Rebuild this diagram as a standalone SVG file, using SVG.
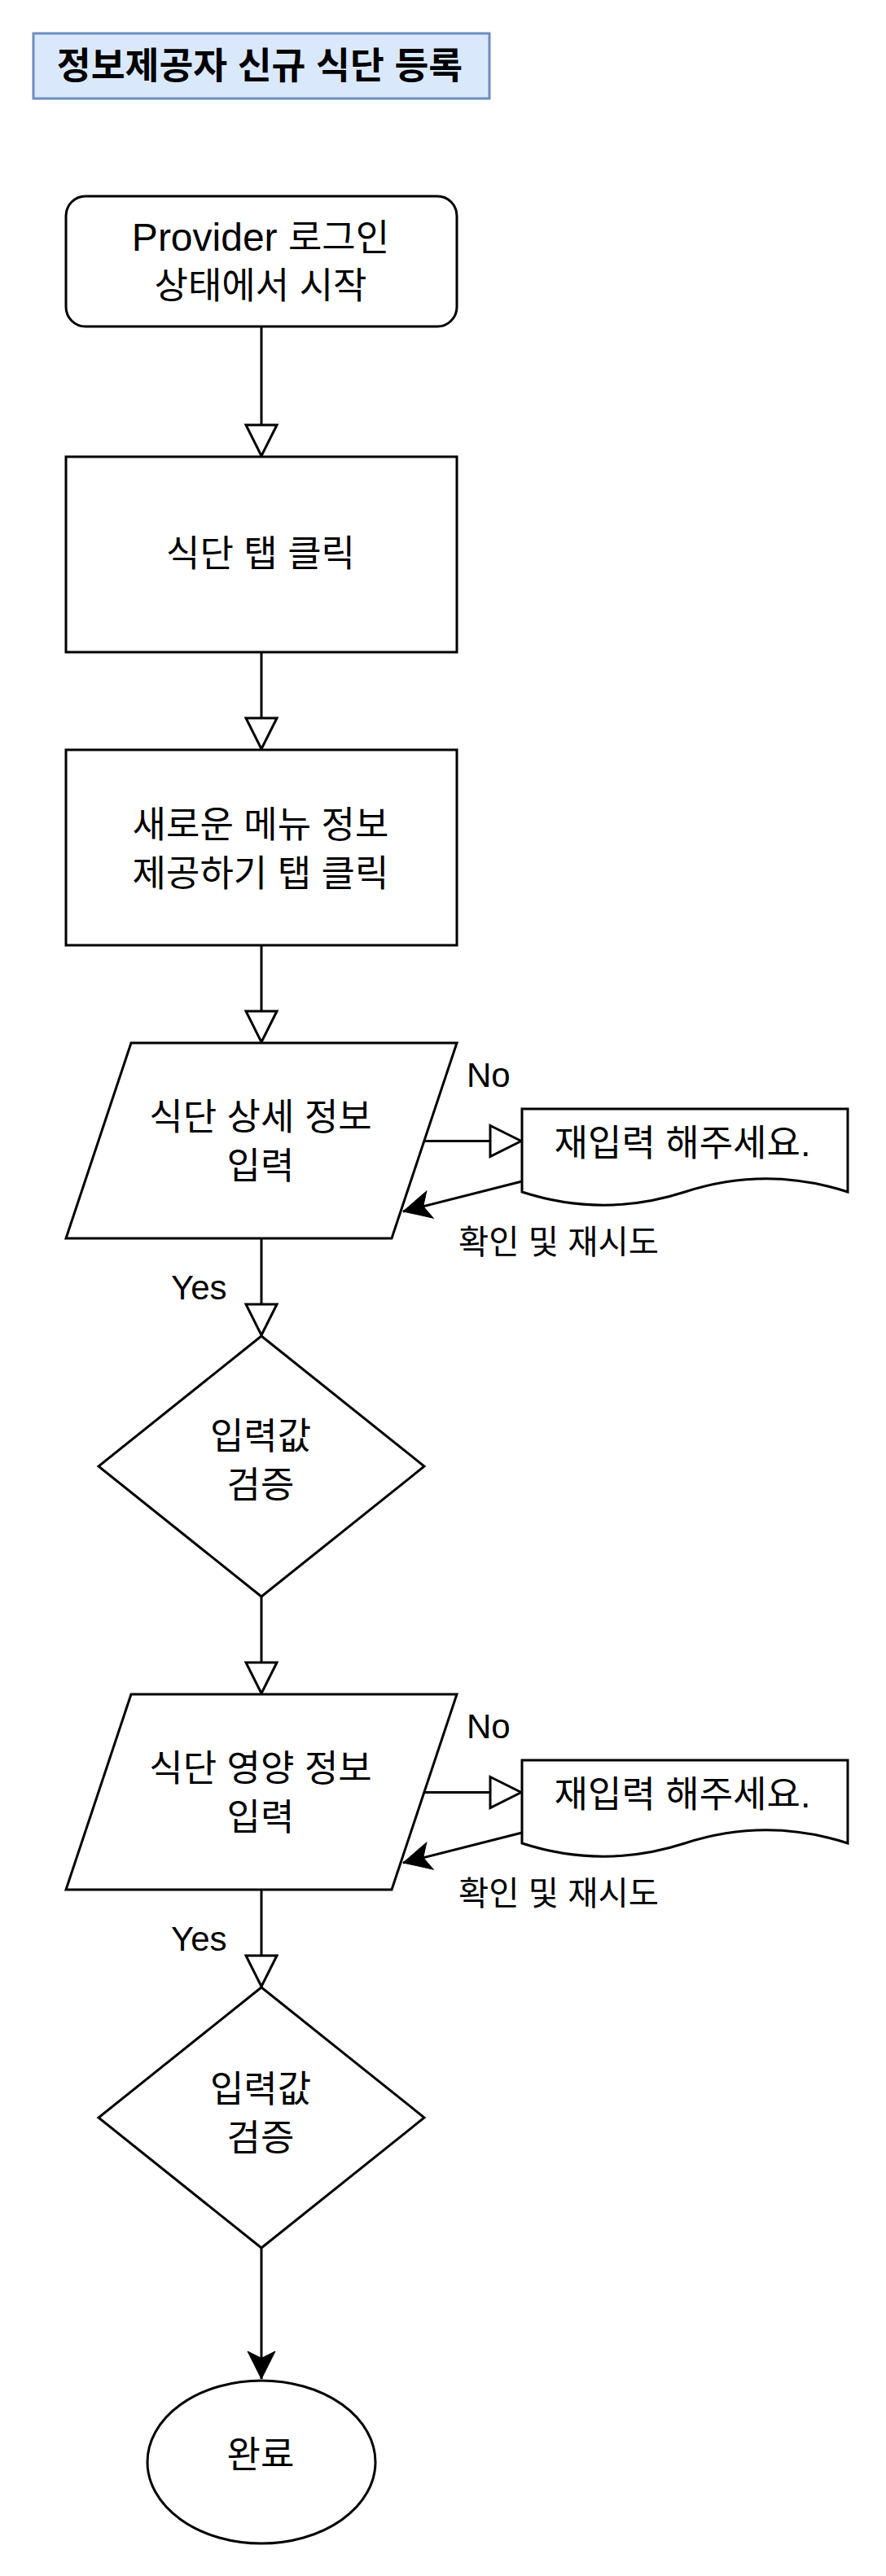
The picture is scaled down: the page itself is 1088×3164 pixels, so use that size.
<svg xmlns="http://www.w3.org/2000/svg" width="1088" height="3164" viewBox="0 0 1088 3164">
<style>
.n{fill:#fff;stroke:#000;stroke-width:3}
.t{font-family:"Liberation Sans","Noto Sans CJK KR",sans-serif;font-size:45px;fill:#000;text-anchor:middle}
.l{font-family:"Liberation Sans","Noto Sans CJK KR",sans-serif;font-size:42px;fill:#000}
.e{fill:none;stroke:#000;stroke-width:3}
.o{marker-end:url(#open)}
.c{marker-end:url(#classic)}
</style>
<defs>
<marker id="open" markerUnits="userSpaceOnUse" viewBox="-4 -4 46 46" refX="38" refY="19" markerWidth="46" markerHeight="46" orient="auto" overflow="visible">
<path d="M0,0 L38,19 L0,38 Z" fill="#fff" stroke="#000" stroke-width="3"/>
</marker>
<marker id="classic" markerUnits="userSpaceOnUse" viewBox="-4 -4 42 42" refX="34" refY="17" markerWidth="42" markerHeight="42" orient="auto" overflow="visible">
<path d="M34,17 L0,0 L8.5,17 L0,34 Z" fill="#000" stroke="#000" stroke-width="1"/>
</marker>
</defs>
<rect width="1088" height="3164" fill="#fff"/>

<g id="connectors">
<path class="e o" d="M321,401 V560"/>
<path class="e o" d="M321,801 V920"/>
<path class="e o" d="M321,1161 V1280"/>
<path class="e o" d="M321,1521 V1640"/>
<path class="e o" d="M321,1961 V2080"/>
<path class="e o" d="M321,2321 V2440"/>
<path class="e c" d="M321,2761 V2922"/>
<path class="e o" d="M521,1401.5 H640"/>
<path class="e o" d="M521,2201.5 H640"/>
<path class="e c" d="M641,1451 L495,1488"/>
<path class="e c" d="M641,2251 L495,2288"/>
<text class="l" x="573" y="1335">No</text>
<text class="l" x="278.5" y="1595.5" style="text-anchor:end">Yes</text>
<text class="l" x="686" y="1540" style="text-anchor:middle;font-size:40.5px">확인 및 재시도</text>
<text class="l" x="573" y="2135">No</text>
<text class="l" x="278.5" y="2395.5" style="text-anchor:end">Yes</text>
<text class="l" x="686" y="2340" style="text-anchor:middle;font-size:40.5px">확인 및 재시도</text>
</g>

<g id="title">
<rect x="41" y="41" width="560" height="80" fill="#dae8fc" stroke="#6c8ebf" stroke-width="3"/>
<text class="t" x="319" y="97" style="font-size:45.5px;font-weight:bold">정보제공자 신규 식단 등록</text>
</g>

<g id="start">
<rect class="n" x="81" y="241" width="480" height="160" rx="24" ry="24"/>
<text class="t" x="320" y="308"><tspan style="font-size:48px">Provider </tspan>로그인</text>
<text class="t" x="320" y="367">상태에서 시작</text>
</g>

<g id="tab-click">
<rect class="n" x="81" y="561" width="480" height="240"/>
<text class="t" x="320" y="695.5">식단 탭 클릭</text>
</g>

<g id="new-menu">
<rect class="n" x="81" y="921" width="480" height="240"/>
<text class="t" x="320" y="1028.5">새로운 메뉴 정보</text>
<text class="t" x="320" y="1088.5">제공하기 탭 클릭</text>
</g>

<g id="detail-input">
<polygon class="n" points="161,1281 561,1281 481,1521 81,1521"/>
<text class="t" x="320" y="1387.5">식단 상세 정보</text>
<text class="t" x="320" y="1447.5">입력</text>
</g>

<g id="retry-1">
<path class="n" d="M641,1362 L1041,1362 L1041,1464 Q941,1431.6 841,1464 Q741,1496.4 641,1464 Z"/>
<text class="t" x="838" y="1419.5">재입력 해주세요.</text>
</g>

<g id="validate-1">
<polygon class="n" points="321,1641 521,1801 321,1961 121,1801"/>
<text class="t" x="320" y="1779.5">입력값</text>
<text class="t" x="320" y="1839.5">검증</text>
</g>

<g id="nutrition-input">
<polygon class="n" points="161,2081 561,2081 481,2321 81,2321"/>
<text class="t" x="320" y="2187.5">식단 영양 정보</text>
<text class="t" x="320" y="2247.5">입력</text>
</g>

<g id="retry-2">
<path class="n" d="M641,2162 L1041,2162 L1041,2264 Q941,2231.6 841,2264 Q741,2296.4 641,2264 Z"/>
<text class="t" x="838" y="2219.5">재입력 해주세요.</text>
</g>

<g id="validate-2">
<polygon class="n" points="321,2441 521,2601 321,2761 121,2601"/>
<text class="t" x="320" y="2581.5">입력값</text>
<text class="t" x="320" y="2641.5">검증</text>
</g>

<g id="done">
<ellipse class="n" cx="321" cy="3024" rx="140" ry="100"/>
<text class="t" x="320" y="3030.5">완료</text>
</g>
</svg>
